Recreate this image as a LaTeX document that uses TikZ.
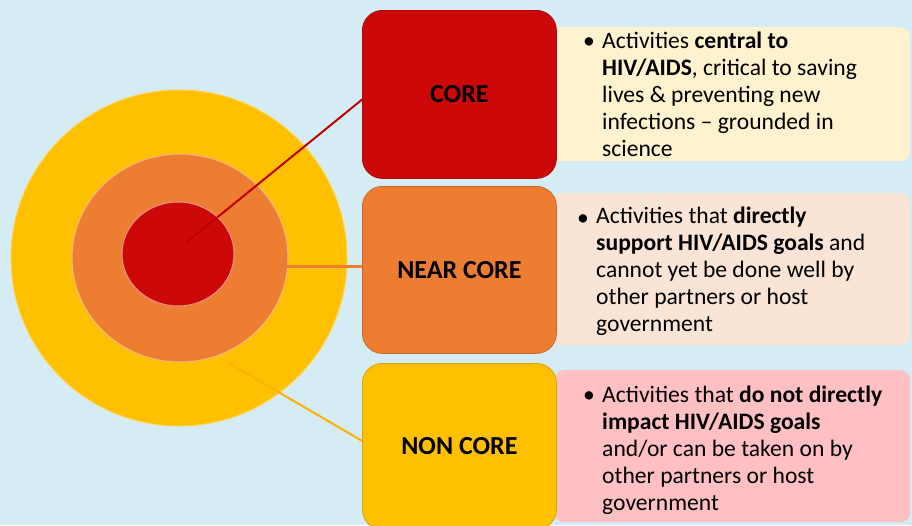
\documentclass[tikz,border=0pt]{standalone}
\usepackage{fontspec}
\setmainfont{Carlito}
\usetikzlibrary{shapes.geometric}
\definecolor{bgblue}{RGB}{213,236,244}
\definecolor{cred}{RGB}{204,8,8}
\definecolor{corange}{RGB}{237,125,49}
\definecolor{cyellow}{RGB}{255,192,0}
\definecolor{lineyellow}{RGB}{255,176,0}
\definecolor{lred}{RGB}{192,0,0}
\definecolor{dcream}{RGB}{255,242,206}
\definecolor{dpeach}{RGB}{250,228,214}
\definecolor{dpink}{RGB}{255,192,196}
\tikzset{
  ring/.style={ellipse, inner sep=0pt, line width=1pt},
  labelbox/.style={rectangle, rounded corners=20pt, minimum width=194pt, inner sep=0pt, font=\fontsize{26}{31}\selectfont\bfseries, text=black, line width=0.8pt},
  descbox/.style={rectangle, rounded corners=10pt, inner sep=0pt},
  desctext/.style={anchor=base west, align=left, inner sep=0pt, font=\fontsize{23.6}{27}\selectfont, text=black},
  bulletmark/.style={anchor=base, inner sep=0pt, font=\fontsize{23.6}{27}\selectfont},
  conn/.style={line width=2pt}
}
\begin{document}
\begin{tikzpicture}[x=1pt,y=-1pt]
\useasboundingbox (0,0) rectangle (912,525);
\fill[bgblue] (0,0) rectangle (912,525);
% target rings
\node[ring, fill=cyellow, draw=cyellow!70!white, minimum width=336pt, minimum height=336pt] (outer) at (179,258) {};
\node[ring, fill=corange, draw=corange!55!white, minimum width=216pt, minimum height=208pt] (mid) at (180,258) {};
\node[ring, fill=cred, draw=cred!45!white, minimum width=112pt, minimum height=104pt] (inner) at (178,254) {};
% connector end points
\coordinate (s1) at (187,242);
\coordinate (s2) at (233,266);
\coordinate (s3) at (227,362);
\coordinate (e1) at (364,98);
\coordinate (e2) at (364,266);
\coordinate (e3) at (364,442);
% connectors
\draw[conn, lred] (s1) -- (e1);
\draw[conn, corange, line width=3pt] (s2) -- (e2);
\draw[conn, lineyellow] (s3) -- (e3);
% description boxes
\node[descbox, fill=dcream, minimum width=360pt, minimum height=134pt, anchor=north west] (d1) at (550,27) {};
\node[descbox, fill=dpeach, minimum width=360pt, minimum height=152pt, anchor=north west] (d2) at (550,193) {};
\node[descbox, fill=dpink, minimum width=356pt, minimum height=152pt, anchor=north west] (d3) at (554,370) {};
% label boxes
\node[labelbox, fill=cred, draw=cred!85!black, minimum height=168pt, anchor=north west] (core) at (362,10) {CORE};
\node[labelbox, fill=corange, draw=corange!85!black, minimum height=167pt, anchor=north west] (near) at (362,186) {NEAR CORE};
\node[labelbox, fill=cyellow, draw=cyellow!85!black, minimum height=166pt, anchor=north west] (non) at (362,363) {NON CORE};
% description texts (base anchor = baseline of last line)
\node[bulletmark] (b1) at (589,48) {•};
\node[desctext] (t1) at (602,156) {Activities \textbf{central to}\\\textbf{HIV/AIDS}, critical to saving\\lives \& preventing new\\infections – grounded in\\science};
\node[bulletmark] (b2) at (583,225) {•};
\node[desctext] (t2) at (596,331) {Activities that \textbf{directly}\\\textbf{support HIV/AIDS goals} and\\cannot yet be done well by\\other partners or host\\government};
\node[bulletmark] (b3) at (589,402) {•};
\node[desctext] (t3) at (602,510) {Activities that \textbf{do not directly}\\\textbf{impact HIV/AIDS goals}\\and/or can be taken on by\\other partners or host\\government};
\end{tikzpicture}
\end{document}
